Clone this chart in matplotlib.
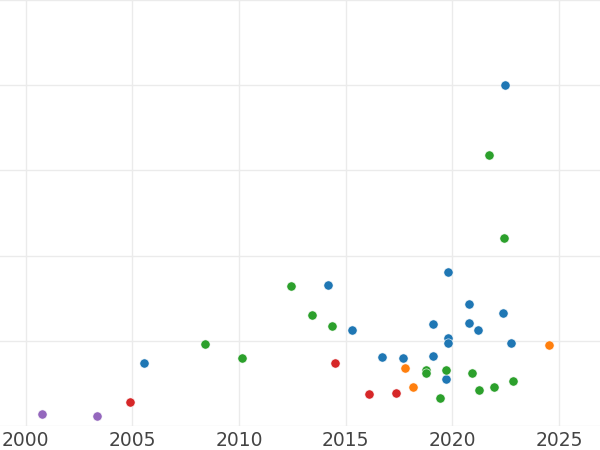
import matplotlib
matplotlib.use("Agg")
import matplotlib.pyplot as plt

# Data (year, value) per group
blue_x = [2005.53, 2014.16, 2015.31, 2016.70, 2017.67, 2019.11, 2019.11, 2019.81, 2019.81,
          2019.81, 2019.70, 2020.78, 2020.79, 2021.20, 2022.36, 2022.76, 2022.47]
blue_y = [0.735, 1.653, 1.122, 0.812, 0.801, 1.192, 0.821, 1.809, 1.028,
          0.977, 0.555, 1.434, 1.208, 1.122, 1.325, 0.977, 3.998]
orange_x = [2017.79, 2018.17, 2024.53]
orange_y = [0.683, 0.461, 0.946]
green_x = [2008.39, 2010.15, 2012.42, 2013.42, 2014.37, 2018.76, 2018.76, 2019.72, 2019.43,
           2020.91, 2021.25, 2021.95, 2022.86, 2021.70, 2022.43]
green_y = [0.961, 0.801, 1.638, 1.298, 1.172, 0.657, 0.618, 0.657, 0.332,
           0.621, 0.419, 0.454, 0.524, 3.185, 2.212]
red_x = [2004.90, 2014.48, 2016.09, 2017.36]
red_y = [0.278, 0.742, 0.372, 0.387]
purple_x = [2000.78, 2003.34]
purple_y = [0.137, 0.117]

x_ticks = [2000, 2005, 2010, 2015, 2020, 2025]
y_grid = [0, 1, 2, 3, 4, 5]

groups = [
    (blue_x, blue_y, "#1f77b4"),
    (orange_x, orange_y, "#ff7f0e"),
    (green_x, green_y, "#2ca02c"),
    (red_x, red_y, "#d62728"),
    (purple_x, purple_y, "#9467bd"),
]

fig = plt.figure(figsize=(6, 4.5), dpi=100)
ax = fig.add_axes([0, 24 / 450, 1, 426 / 450])

for xs, ys, c in groups:
    ax.scatter(xs, ys, s=44, color=c, edgecolor="white", linewidth=0.4, zorder=3)

ax.set_xlim(1998.795, 2026.92)
ax.set_ylim(0, 5)
ax.set_xticks(x_ticks)
ax.set_xticklabels([str(t) for t in x_ticks])
ax.set_yticks(y_grid)
ax.set_yticklabels([])
ax.grid(True, color="#ebebeb", linewidth=1.0, zorder=0)
ax.set_axisbelow(True)
for s in ax.spines.values():
    s.set_visible(False)
ax.tick_params(axis="both", length=0)
ax.tick_params(axis="x", labelsize=13.5, labelcolor="#444444", pad=3.5)
ax.set_facecolor("white")

fig.savefig("out.png", dpi=100)
